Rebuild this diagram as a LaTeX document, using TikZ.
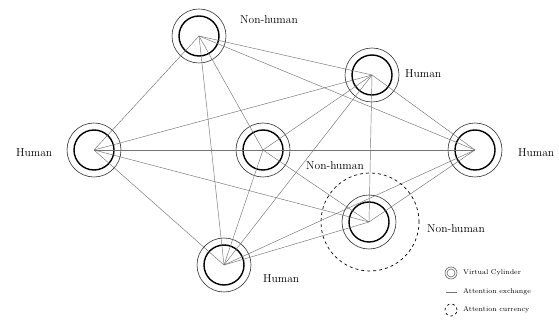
\documentclass[tikz,border=0pt]{standalone}
\usepackage{xcolor}
\usepackage{tikz}
\usetikzlibrary{shapes,backgrounds}

\begin{document}
\begin{tikzpicture}[x=1pt,y=-1pt]
		\tikzstyle{cyl}=[circle,draw=black,line width=1.4pt,minimum size=40pt,inner sep=0pt]
		\tikzstyle{ring}=[circle,draw=black!80,line width=0.6pt,minimum size=54pt,inner sep=0pt]
		\tikzstyle{link}=[draw=black!55,line width=0.45pt]
		\tikzstyle{currency}=[circle,draw=black,dashed,line width=0.7pt,minimum size=98pt,inner sep=0pt]
		\tikzstyle{lbl}=[anchor=west,inner sep=0pt,font=\fontsize{11.5}{13}\selectfont]
		\tikzstyle{key_text}=[anchor=west,inner sep=0pt,font=\fontsize{7}{8}\selectfont]

		\useasboundingbox (0,0) rectangle (559,320);

		% cylinders
		\node [cyl] (A) at (199,36) {};
		\node [cyl] (B) at (372,75) {};
		\node [cyl] (C) at (94,150) {};
		\node [cyl] (D) at (263,150) {};
		\node [cyl] (E) at (475,150) {};
		\node [cyl] (F) at (369,222) {};
		\node [cyl] (G) at (224,265) {};
		\foreach \n in {A,B,C,D,E,F,G}
			\node [ring] (\n ring) at (\n) {};

		\node [currency] (Fcur) at (370,222) {};

		% attention exchange
		\foreach \a/\b in {A/B,A/C,A/D,A/E,A/G,B/C,B/D,B/E,B/F,B/G,
			C/E,C/F,C/G,D/F,D/G,E/F,E/G,F/G}
			\draw [link] (\a.center) -- (\b.center);

		% labels
		\node [lbl] (Alabel) at (240,20) {Non-human};
		\node [lbl] (Blabel) at (405,74) {Human};
		\node [lbl] (Clabel) at (16,153) {Human};
		\node [lbl] (Dlabel) at (306,166) {Non-human};
		\node [lbl] (Elabel) at (518,153) {Human};
		\node [lbl] (Flabel) at (427,229) {Non-human};
		\node [lbl] (Glabel) at (263,279) {Human};

		% key
		\node [circle,draw=black!60,line width=0.6pt,minimum size=12pt,inner sep=0pt] (k1) at (451,273) {};
		\node [circle,draw=black!60,line width=0.6pt,minimum size=8pt,inner sep=0pt] at (k1) {};
		\node [key_text] (k1text) at (463,273) {Virtual Cylinder};
		\coordinate (k2a) at (446,292);
		\coordinate (k2b) at (457,292);
		\draw [link] (k2a) -- (k2b);
		\node [key_text] (k2text) at (463,292) {Attention exchange};
		\node [circle,draw=black,dash pattern=on 2.5pt off 3pt,line width=0.7pt,minimum size=12pt,inner sep=0pt] (k3) at (451,310) {};
		\node [key_text] (k3text) at (463,310) {Attention currency};
	\end{tikzpicture}
\end{document}
